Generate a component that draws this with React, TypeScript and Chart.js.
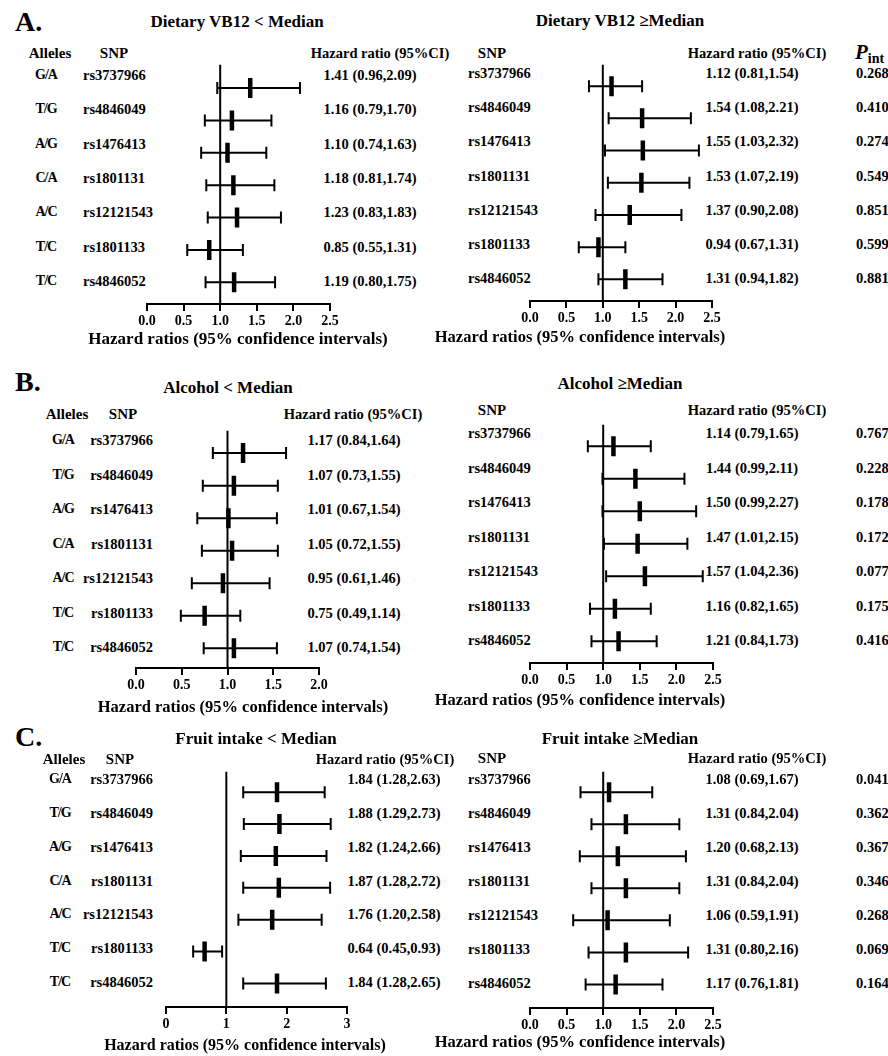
import React, { useEffect, useRef } from "react";
import { Chart, registerables } from "chart.js";
Chart.register(...registerables);

const snps = ["rs3737966", "rs4846049", "rs1476413", "rs1801131", "rs12121543", "rs1801133", "rs4846052"];
const alleles = ["G/A", "T/G", "A/G", "C/A", "A/C", "T/C", "T/C"];

// A. Dietary VB12
const vbLowHR = [1.41, 1.16, 1.10, 1.18, 1.23, 0.85, 1.19];
const vbLowLo = [0.96, 0.79, 0.74, 0.81, 0.83, 0.55, 0.80];
const vbLowHi = [2.09, 1.70, 1.63, 1.74, 1.83, 1.31, 1.75];
const vbHighHR = [1.12, 1.54, 1.55, 1.53, 1.37, 0.94, 1.31];
const vbHighLo = [0.81, 1.08, 1.03, 1.07, 0.90, 0.67, 0.94];
const vbHighHi = [1.54, 2.21, 2.32, 2.19, 2.08, 1.31, 1.82];
const vbP = [0.268, 0.410, 0.274, 0.549, 0.851, 0.599, 0.881];

// B. Alcohol
const alLowHR = [1.17, 1.07, 1.01, 1.05, 0.95, 0.75, 1.07];
const alLowLo = [0.84, 0.73, 0.67, 0.72, 0.61, 0.49, 0.74];
const alLowHi = [1.64, 1.55, 1.54, 1.55, 1.46, 1.14, 1.54];
const alHighHR = [1.14, 1.44, 1.50, 1.47, 1.57, 1.16, 1.21];
const alHighLo = [0.79, 0.99, 0.99, 1.01, 1.04, 0.82, 0.84];
const alHighHi = [1.65, 2.11, 2.27, 2.15, 2.36, 1.65, 1.73];
const alP = [0.767, 0.228, 0.178, 0.172, 0.077, 0.175, 0.416];

// C. Fruit intake
const frLowHR = [1.84, 1.88, 1.82, 1.87, 1.76, 0.64, 1.84];
const frLowLo = [1.28, 1.29, 1.24, 1.28, 1.20, 0.45, 1.28];
const frLowHi = [2.63, 2.73, 2.66, 2.72, 2.58, 0.93, 2.65];
const frHighHR = [1.08, 1.31, 1.20, 1.31, 1.06, 1.31, 1.17];
const frHighLo = [0.69, 0.84, 0.68, 0.84, 0.59, 0.80, 0.76];
const frHighHi = [1.67, 2.04, 2.13, 2.04, 1.91, 2.16, 1.81];
const frP = [0.041, 0.362, 0.367, 0.346, 0.268, 0.069, 0.164];

// axis ticks
const ticks25 = { max: 2.5, step: 0.5, dec: 1 };
const ticks20 = { max: 2.0, step: 0.5, dec: 1 };
const ticks3 = { max: 3, step: 1, dec: 0 };

const FONT = '"Liberation Serif", "Times New Roman", serif';

type Geo = { x0: number; x1: number; refTop: number; axisY: number; row0: number; row6: number };

function T({ x, y, children, size = 15, align = "center", style = {} }: any) {
  const tx = align === "center" ? "-50%" : align === "right" ? "-100%" : "0";
  return (
    <div
      style={{
        position: "absolute",
        left: x,
        top: y,
        transform: `translate(${tx}, -50%)`,
        fontFamily: FONT,
        fontWeight: "bold",
        fontSize: size,
        lineHeight: 1,
        whiteSpace: "nowrap",
        color: "#000",
        ...style,
      }}
    >
      {children}
    </div>
  );
}

function Forest({ geo, hr, lo, hi, tk }: { geo: Geo; hr: number[]; lo: number[]; hi: number[]; tk: any }) {
  const ref = useRef<HTMLCanvasElement>(null);
  const padX = 26;
  const axisH = 32;
  const width = geo.x1 - geo.x0 + 2 * padX;
  const height = geo.axisY - geo.refTop + axisH;
  useEffect(() => {
    const pxRow = (geo.row6 - geo.row0) / 6;
    const yMin = -(geo.row0 - geo.refTop) / pxRow;
    const yMax = 6 + (geo.axisY - geo.row6) / pxRow;
    const idx = hr.map((_, i) => i);
    const chart = new Chart(ref.current!, {
      type: "scatter",
      data: {
        datasets: [
          {
            data: [{ x: 1, y: yMin }, { x: 1, y: yMax }],
            showLine: true,
            borderColor: "#000",
            borderWidth: 2,
            pointRadius: 0,
          },
          {
            data: idx.flatMap((i) => [{ x: lo[i], y: i }, { x: hi[i], y: i }, { x: NaN, y: NaN }]),
            showLine: true,
            spanGaps: false,
            borderColor: "#000",
            borderWidth: 2,
            pointRadius: 0,
          },
          {
            data: idx.flatMap((i) => [{ x: lo[i], y: i }, { x: hi[i], y: i }]),
            pointStyle: "line",
            rotation: 90,
            pointRadius: 6,
            borderColor: "#000",
            borderWidth: 2,
          },
          {
            data: idx.map((i) => ({ x: hr[i], y: i })),
            pointStyle: "line",
            rotation: 90,
            pointRadius: 10,
            borderColor: "#000",
            borderWidth: 4.5,
          },
        ] as any,
      },
      options: {
        responsive: false,
        animation: false,
        devicePixelRatio: 1,
        layout: { padding: { left: padX, right: padX, top: 0, bottom: 0 } },
        plugins: { legend: { display: false }, tooltip: { enabled: false } },
        scales: {
          x: {
            type: "linear",
            min: 0,
            max: tk.max,
            ticks: {
              stepSize: tk.step,
              autoSkip: false,
              maxRotation: 0,
              padding: 2,
              color: "#000",
              font: { family: FONT, weight: "bold", size: 14 },
              callback: (v: any) => Number(v).toFixed(tk.dec),
            },
            grid: { drawOnChartArea: false, drawTicks: true, tickLength: 7, color: "#000", lineWidth: 2 },
            border: { color: "#000", width: 2 },
            afterFit: (s: any) => {
              s.height = axisH;
            },
          },
          y: { type: "linear", display: false, min: yMin, max: yMax, reverse: true },
        },
      } as any,
    });
    return () => chart.destroy();
  }, []);
  return (
    <canvas
      ref={ref}
      width={width}
      height={height}
      style={{ position: "absolute", left: geo.x0 - padX, top: geo.refTop, width, height }}
    />
  );
}

const fmt = (h: number, l: number, u: number) => `${h.toFixed(2)} (${l.toFixed(2)},${u.toFixed(2)})`;

function rowsY(geo: Geo) {
  const pxRow = (geo.row6 - geo.row0) / 6;
  return snps.map((_, i) => geo.row0 + i * pxRow);
}

function LeftPanel({ geo, hr, lo, hi, tk, letter, letterY, title, titleX, titleY, headY, allelesX, snpX, rsX, rsAlign, hrHeadX, valX, axTitleX, axTitleY, axTitleSize }: any) {
  const ys = rowsY(geo);
  return (
    <>
      <T x={15} y={letterY} size={28} align="left">{letter}</T>
      <T x={titleX} y={titleY} size={17}>{title}</T>
      <T x={allelesX} y={headY} size={15}>Alleles</T>
      <T x={snpX} y={headY} size={15}>SNP</T>
      <T x={hrHeadX} y={headY} size={14.5}>Hazard ratio (95%CI)</T>
      {ys.map((y, i) => (
        <React.Fragment key={i}>
          <T x={allelesX - 4} y={y} size={14} style={{ letterSpacing: -1 }}>{alleles[i]}</T>
          <T x={rsX} y={y} size={14.5} align={rsAlign}>{snps[i]}</T>
          <T x={valX} y={y} size={14.5}>{fmt(hr[i], lo[i], hi[i])}</T>
        </React.Fragment>
      ))}
      <Forest geo={geo} hr={hr} lo={lo} hi={hi} tk={tk} />
      <T x={axTitleX} y={axTitleY} size={axTitleSize}>Hazard ratios (95% confidence intervals)</T>
    </>
  );
}

function RightPanel({ geo, hr, lo, hi, p, tk, title, titleY, headY, showP, axTitleY }: any) {
  const ys = rowsY(geo);
  return (
    <>
      <T x={620} y={titleY} size={17}>{title}</T>
      <T x={492} y={headY} size={15}>SNP</T>
      <T x={757} y={headY} size={14.5}>Hazard ratio (95%CI)</T>
      {showP && (
        <T x={855} y={headY + 1} size={21} align="left">
          <i>P</i>
          <sub style={{ fontSize: 14, verticalAlign: "-4px" }}>int</sub>
        </T>
      )}
      {ys.map((y, i) => (
        <React.Fragment key={i}>
          <T x={468} y={y} size={14.5} align="left">{snps[i]}</T>
          <T x={752} y={y} size={14.5}>{fmt(hr[i], lo[i], hi[i])}</T>
          <T x={856} y={y} size={14.5} align="left">{p[i].toFixed(3)}</T>
        </React.Fragment>
      ))}
      <Forest geo={geo} hr={hr} lo={lo} hi={hi} tk={tk} />
      <T x={580} y={axTitleY} size={16.5}>Hazard ratios (95% confidence intervals)</T>
    </>
  );
}

export default function App() {
  return (
    <div style={{ position: "absolute", left: 0, top: 0, width: 888, height: 1056, background: "#fff", overflow: "hidden" }}>
      <LeftPanel
        geo={{ x0: 147, x1: 330, refTop: 50, axisY: 304, row0: 75, row6: 281 }}
        hr={vbLowHR} lo={vbLowLo} hi={vbLowHi} tk={ticks25}
        letter="A." letterY={22} title="Dietary VB12 < Median" titleX={237} titleY={21}
        headY={53} allelesX={50} snpX={114} rsX={83} rsAlign="left" hrHeadX={380} valX={370}
        axTitleX={238} axTitleY={338} axTitleSize={17}
      />
      <RightPanel
        geo={{ x0: 530, x1: 712, refTop: 50, axisY: 301, row0: 73, row6: 278 }}
        hr={vbHighHR} lo={vbHighLo} hi={vbHighHi} p={vbP} tk={ticks25}
        title="Dietary VB12 ≥Median" titleY={20} headY={53} showP={true} axTitleY={337}
      />
      <LeftPanel
        geo={{ x0: 136, x1: 319, refTop: 416, axisY: 668, row0: 440, row6: 647 }}
        hr={alLowHR} lo={alLowLo} hi={alLowHi} tk={ticks20}
        letter="B." letterY={382} title="Alcohol < Median" titleX={228} titleY={387}
        headY={414} allelesX={67} snpX={123} rsX={153} rsAlign="right" hrHeadX={353} valX={354}
        axTitleX={243} axTitleY={707} axTitleSize={16.5}
      />
      <RightPanel
        geo={{ x0: 530, x1: 713, refTop: 410, axisY: 663, row0: 433, row6: 640 }}
        hr={alHighHR} lo={alHighLo} hi={alHighHi} p={alP} tk={ticks25}
        title="Alcohol ≥Median" titleY={383} headY={410} showP={false} axTitleY={700}
      />
      <LeftPanel
        geo={{ x0: 166, x1: 347, refTop: 757, axisY: 1007, row0: 779, row6: 982 }}
        hr={frLowHR} lo={frLowLo} hi={frLowHi} tk={ticks3}
        letter="C." letterY={737} title="Fruit intake < Median" titleX={256} titleY={738}
        headY={759} allelesX={64} snpX={120} rsX={153} rsAlign="right" hrHeadX={385} valX={394}
        axTitleX={245} axTitleY={1045} axTitleSize={16}
      />
      <RightPanel
        geo={{ x0: 530, x1: 713, refTop: 757, axisY: 1008, row0: 779, row6: 983 }}
        hr={frHighHR} lo={frHighLo} hi={frHighHi} p={frP} tk={ticks25}
        title="Fruit intake ≥Median" titleY={738} headY={758} showP={false} axTitleY={1042}
      />
    </div>
  );
}
